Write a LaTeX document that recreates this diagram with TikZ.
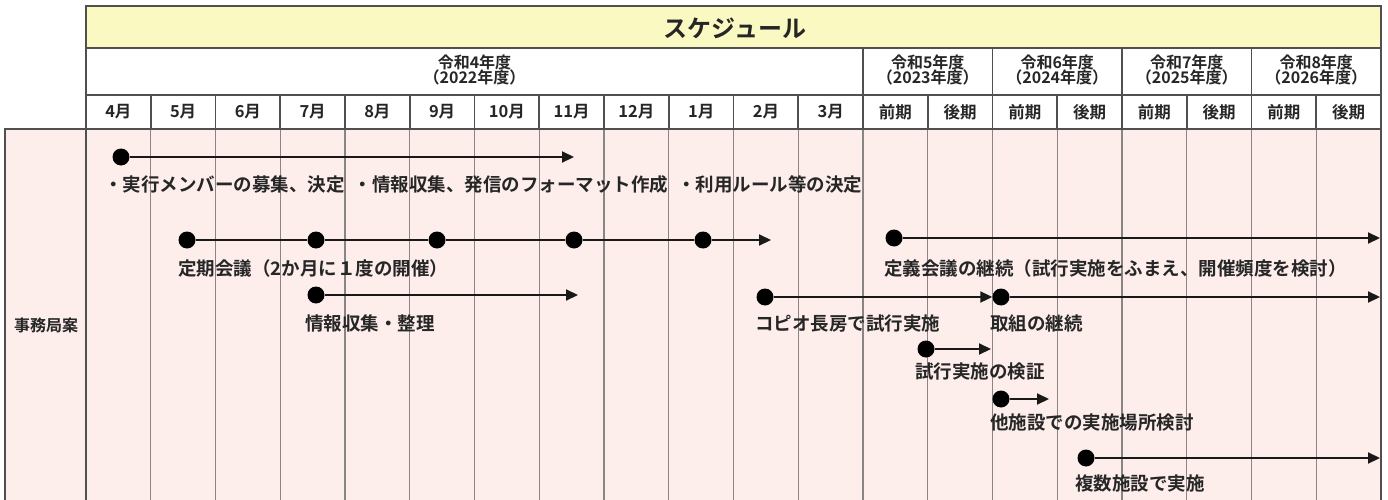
\documentclass[tikz,border=0pt]{standalone}
\usepackage{fontspec}
\newfontfamily\jp{Noto Sans CJK JP}[BoldFont={Noto Sans CJK JP Bold}]
\usetikzlibrary{arrows.meta}
\definecolor{hdryellow}{HTML}{FBF9C2}
\definecolor{bodypink}{HTML}{FDEEEC}
\definecolor{frame}{HTML}{505050}
\definecolor{gridgray}{HTML}{8A8484}
\begin{document}
\begin{tikzpicture}[x=1pt,y=-1pt,
  hdrtext/.style={font=\jp\bfseries\fontsize{16.5}{17}\selectfont, inner sep=0pt, text=black!85, align=center},
  yeartext/.style={font=\jp\bfseries\fontsize{16}{16}\selectfont, inner sep=0pt, text=black!85, align=center},
  bodytext/.style={font=\jp\bfseries\fontsize{18.5}{20}\selectfont, inner sep=0pt, anchor=west, text=black!85},
  dotnode/.style={circle, fill=black, inner sep=0pt, minimum size=17pt},
  arrowline/.style={line width=2pt, draw=black!90, -{Triangle[length=12pt,width=11pt]}},
  plainline/.style={line width=2pt, draw=black!90},
  frameline/.style={draw=frame, line width=1.8pt},
  gridline/.style={draw=gridgray, line width=1.4pt}
]
\useasboundingbox (0,0) rectangle (1388,500);
\fill[white] (0,0) rectangle (1388,500);
\def\cw{64.75}
% header
\fill[hdryellow] (86,6) rectangle (1381,48);
\fill[bodypink] (5,129) rectangle (1381,500);
% body grid
\foreach \i in {1,...,19} {
  \draw[gridline] ({86+\i*\cw},129) -- ({86+\i*\cw},500);
}
\draw[frameline] (5,500) -- (5,129) -- (1381,129) -- (1381,500);
\draw[frameline] (86,129) -- (86,500);
% header frames
\draw[frameline] (86,6) rectangle (1381,129);
\draw[frameline] (86,48) -- (1381,48);
\draw[frameline] (86,95) -- (1381,95);
\foreach \i in {12,14,16,18} {
  \draw[frameline] ({86+\i*\cw},48) -- ({86+\i*\cw},95);
}
\foreach \i in {1,...,19} {
  \draw[frameline] ({86+\i*\cw},95) -- ({86+\i*\cw},129);
}
\node[hdrtext, font=\jp\bfseries\fontsize{24}{25}\selectfont] (title) at (735,28) {スケジュール};
% year labels
\node[yeartext] (y4) at ({86+6*\cw},70) {令和4年度\\[-1pt]（2022年度）};
\node[yeartext] (y5) at ({86+13*\cw},70) {令和5年度\\[-1pt]（2023年度）};
\node[yeartext] (y6) at ({86+15*\cw},70) {令和6年度\\[-1pt]（2024年度）};
\node[yeartext] (y7) at ({86+17*\cw},70) {令和7年度\\[-1pt]（2025年度）};
\node[yeartext] (y8) at ({86+19*\cw},70) {令和8年度\\[-1pt]（2026年度）};
% month labels
\foreach \m [count=\k from 0] in {4月,5月,6月,7月,8月,9月,10月,11月,12月,1月,2月,3月,前期,後期,前期,後期,前期,後期,前期,後期} {
  \node[hdrtext] (m\k) at ({86+(\k+0.5)*\cw},112) {\m};
}
% left label
\node[hdrtext, font=\jp\bfseries\fontsize{16}{16}\selectfont] (office) at (46,325) {事務局案};
% row 1
\node[dotnode] (a1) at (121,157) {};
\coordinate (a2) at (574,157);
\draw[arrowline] (a1) -- (a2);
\node[bodytext] (t1) at (104,184) {・実行メンバーの募集、決定\hspace{9pt}・情報収集、発信のフォーマット作成\hspace{9pt}・利用ルール等の決定};
% row 2
\node[dotnode] (b1) at (187,240) {};
\node[dotnode] (b2) at (316,240) {};
\node[dotnode] (b3) at (437,240) {};
\node[dotnode] (b4) at (574,240) {};
\node[dotnode] (b5) at (703,240) {};
\coordinate (b6) at (771,240);
\draw[plainline] (b1) -- (b2) -- (b3) -- (b4) -- (b5);
\draw[arrowline] (b5) -- (b6);
\node[bodytext] (t2) at (178,268) {定期会議（2か月に１度の開催）};
% row 3
\node[dotnode] (c1) at (316,295) {};
\coordinate (c2) at (578,295);
\draw[arrowline] (c1) -- (c2);
\node[bodytext] (t3) at (305,323) {情報収集・整理};
% right side
\node[dotnode] (d1) at (894,238) {};
\coordinate (d2) at (1380,238);
\draw[arrowline] (d1) -- (d2);
\node[bodytext] (t4) at (884,268) {定義会議の継続（試行実施をふまえ、開催頻度を検討）};
\node[dotnode] (e1) at (765,297) {};
\node[dotnode] (e2) at (1001,297) {};
\coordinate (e3) at (1380,297);
\draw[arrowline] (e1) -- (e2);
\draw[arrowline] (e2) -- (e3);
\node[bodytext] (t5) at (755,323) {コピオ長房で試行実施};
\node[bodytext] (t6) at (990,323) {取組の継続};
\node[dotnode] (f1) at (926,349) {};
\coordinate (f2) at (991,349);
\draw[arrowline] (f1) -- (f2);
\node[bodytext] (t7) at (915,372) {試行実施の検証};
\node[dotnode] (g1) at (1001,399) {};
\coordinate (g2) at (1049,399);
\draw[arrowline] (g1) -- (g2);
\node[bodytext] (t8) at (990,423) {他施設での実施場所検討};
\node[dotnode] (h1) at (1086,458) {};
\coordinate (h2) at (1380,458);
\draw[arrowline] (h1) -- (h2);
\node[bodytext] (t9) at (1075,483) {複数施設で実施};
\end{tikzpicture}
\end{document}
